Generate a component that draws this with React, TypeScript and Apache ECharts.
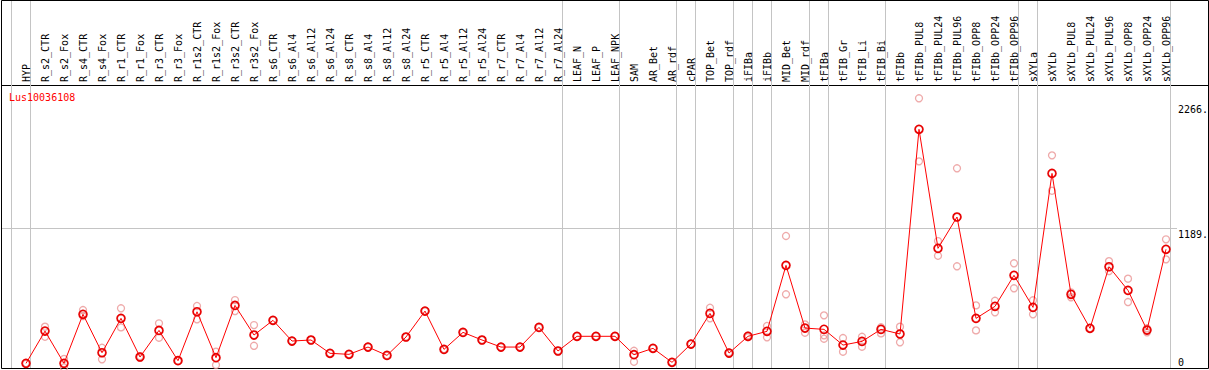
import React, { useEffect, useRef } from "react";
import * as echarts from "echarts";

const categories = [
  "HYP", "R_s2_CTR", "R_s2_Fox", "R_s4_CTR", "R_s4_Fox", "R_r1_CTR", "R_r1_Fox",
  "R_r3_CTR", "R_r3_Fox", "R_r1s2_CTR", "R_r1s2_Fox", "R_r3s2_CTR", "R_r3s2_Fox",
  "R_s6_CTR", "R_s6_Al4", "R_s6_Al12", "R_s6_Al24", "R_s8_CTR", "R_s8_Al4",
  "R_s8_Al12", "R_s8_Al24", "R_r5_CTR", "R_r5_Al4", "R_r5_Al12", "R_r5_Al24",
  "R_r7_CTR", "R_r7_Al4", "R_r7_Al12", "R_r7_Al24", "LEAF_N", "LEAF_P", "LEAF_NPK",
  "SAM", "AR_Bet", "AR_rdf", "cPAR", "TOP_Bet", "TOP_rdf", "iFIBa", "iFIBb",
  "MID_Bet", "MID_rdf", "tFIBa", "tFIB_Gr", "tFIB_Li", "tFIB_Bi", "tFIBb",
  "tFIBb_PUL8", "tFIBb_PUL24", "tFIBb_PUL96", "tFIBb_OPP8", "tFIBb_OPP24",
  "tFIBb_OPP96", "sXYLa", "sXYLb", "sXYLb_PUL8", "sXYLb_PUL24", "sXYLb_PUL96",
  "sXYLb_OPP8", "sXYLb_OPP24", "sXYLb_OPP96",
];

const meanValues = [
  23, 302, 23, 447, 115, 412, 78, 308, 46, 469, 72, 524, 268,
  395, 216, 225, 110, 101, 164, 92, 251, 475, 144, 291, 225,
  164, 164, 334, 130, 257, 257, 257,
  98, 153, 32, 190, 455, 112, 257, 300,
  870, 328, 317, 181, 213, 317, 277,
  2046, 1017, 1288, 412, 516, 784, 507, 1665, 620, 326, 858,
  654, 311, 1009,
];

const rep1 = [
  23, 340, 62, 484, 158, 499, 84, 369, 46, 519, 124, 570, 354,
  395, 216, 225, 110, 101, 164, 92, 251, 475, 144, 291, 225,
  164, 164, 334, 130, 257, 257, 257,
  132, 153, 32, 190, 504, 118, 265, 346,
  1124, 360, 438, 242, 253, 335, 340,
  2314, 1080, 1709, 524, 564, 888, 568, 1821, 637, 326, 907,
  755, 326, 1095,
];

const rep2 = [
  23, 253, -12, 432, 58, 334, 72, 245, 46, 404, 9, 475, 175,
  395, 216, 225, 110, 101, 164, 92, 251, 475, 144, 291, 225,
  164, 164, 334, 130, 257, 257, 257,
  37, 153, 32, 190, 412, 106, 250, 248,
  620, 288, 265, 124, 167, 282, 205,
  1769, 953, 862, 308, 464, 672, 447, 1515, 594, 326, 821,
  553, 291, 922,
];

const rep3 = [
  23, 302, 23, 447, 115, 412, 78, 308, 46, 469, 72, 524, 268,
  395, 216, 225, 110, 101, 164, 92, 251, 475, 144, 291, 225,
  164, 164, 334, 130, 257, 257, 257,
  98, 153, 32, 190, 455, 112, 257, 300,
  870, 328, 236, 181, 213, 317, 277,
  2046, 1017, 1288, 412, 516, 784, 507, 1665, 620, 326, 858,
  654, 311, 1009,
];

// index of the last category of each group (-1 = before the first one)
const groupEnds = [-1, 0, 28, 31, 34, 35, 37, 38, 39, 41, 42, 45, 52, 53, 60];

const yTickValues = [0, 1189, 2266];
const yTickLabels = ["0", "1189.", "2266."];
const gridValues = [1189];

const geneName = "Lus10036108";

const MONO = "'DejaVu Sans Mono', 'Liberation Mono', monospace";

export default function App() {
  const ref = useRef<HTMLDivElement>(null);

  useEffect(() => {
    if (!ref.current) return;
    const chart = echarts.init(ref.current, null, { renderer: "svg" });

    const repData: [number, number][] = [];
    [rep1, rep2, rep3].forEach((arr) => {
      arr.forEach((v, i) => repData.push([i, v]));
    });

    chart.setOption({
      animation: false,
      backgroundColor: "#ffffff",
      title: {
        text: geneName,
        left: 9,
        top: 92,
        padding: 0,
        textStyle: {
          color: "#ff0000",
          fontSize: 10,
          fontWeight: "normal",
          fontFamily: MONO,
        },
      },
      grid: { left: 26, right: 43, top: 85, bottom: 2, containLabel: false },
      xAxis: {
        type: "category",
        data: categories,
        position: "top",
        boundaryGap: false,
        axisLine: { show: false },
        axisTick: { show: false },
        splitLine: { show: false },
        axisLabel: {
          rotate: 90,
          interval: 0,
          margin: 3,
          color: "#000",
          fontSize: 10,
          fontFamily: MONO,
        },
      },
      yAxis: {
        type: "value",
        min: -17,
        max: 2429,
        show: false,
        splitLine: { show: false },
      },
      series: [
        {
          name: "replicates",
          type: "scatter",
          data: repData,
          symbol: "circle",
          symbolSize: 7,
          z: 1,
          itemStyle: {
            color: "rgba(0,0,0,0)",
            borderColor: "#ea9494",
            borderWidth: 1.3,
          },
        },
        {
          name: geneName,
          type: "line",
          data: meanValues,
          symbol: "circle",
          symbolSize: 8,
          showSymbol: true,
          z: 3,
          lineStyle: { color: "#ff0000", width: 1 },
          itemStyle: {
            color: "rgba(0,0,0,0)",
            borderColor: "#e80000",
            borderWidth: 1.6,
          },
        },
      ],
    });

    const p0 = chart.convertToPixel({ xAxisIndex: 0 }, categories[0]) as number;
    const p1 = chart.convertToPixel({ xAxisIndex: 0 }, categories[1]) as number;
    const step = p1 - p0;

    const graphics: any[] = [];
    graphics.push({
      type: "rect",
      shape: { x: 1.5, y: 0.5, width: 1207, height: 368 },
      style: { fill: "none", stroke: "#000", lineWidth: 1 },
      z: 0,
      silent: true,
    });
    graphics.push({
      type: "line",
      shape: { x1: 1, y1: 85.5, x2: 1208, y2: 85.5 },
      style: { stroke: "#000", lineWidth: 1 },
      z: 0,
      silent: true,
    });
    groupEnds.forEach((k) => {
      const x = Math.floor(p0 + k * step + 4.7) + 0.5;
      graphics.push({
        type: "line",
        shape: { x1: x, y1: 1, x2: x, y2: 368 },
        style: { stroke: "#c4c4c4", lineWidth: 1 },
        z: 0,
        silent: true,
      });
    });
    gridValues.forEach((v) => {
      const y = Math.round(chart.convertToPixel({ yAxisIndex: 0 }, v) as number) + 0.5;
      graphics.push({
        type: "line",
        shape: { x1: 2, y1: y, x2: 1177, y2: y },
        style: { stroke: "#c4c4c4", lineWidth: 1 },
        z: 0,
        silent: true,
      });
    });
    yTickValues.forEach((v, i) => {
      const y = chart.convertToPixel({ yAxisIndex: 0 }, v) as number;
      const isZero = v === 0;
      graphics.push({
        type: "text",
        x: 1178,
        y: isZero ? y + 1.5 : y + 1,
        style: {
          text: yTickLabels[i],
          fill: "#000",
          font: `10px ${MONO}`,
          textAlign: "left",
          textVerticalAlign: isZero ? "bottom" : "top",
        },
        z: 5,
        silent: true,
      });
    });

    chart.setOption({ graphic: graphics });

    return () => {
      chart.dispose();
    };
  }, []);

  return (
    <div
      ref={ref}
      style={{ position: "absolute", left: 0, top: 0, width: 1209, height: 370 }}
    />
  );
}
